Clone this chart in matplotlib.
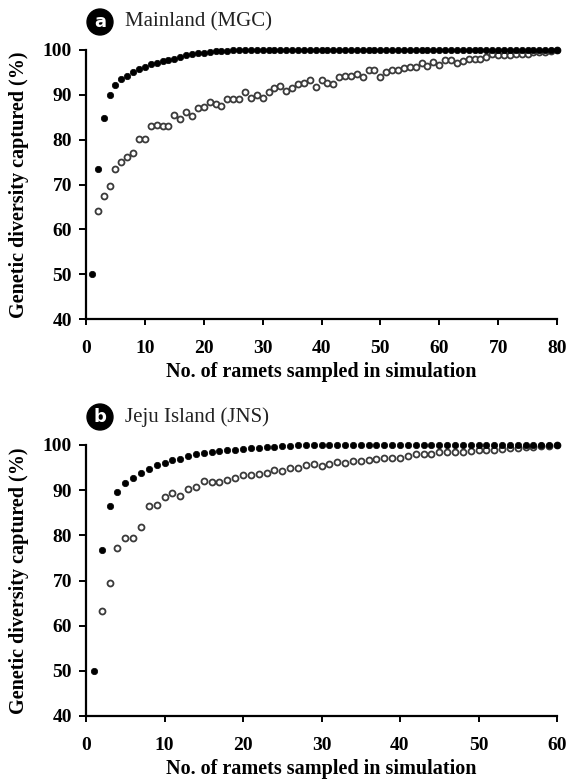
import numpy as np
import matplotlib.pyplot as plt

# Panel a - Mainland (MGC)
ramets_a = np.arange(1, 81)
all_a = [50.0, 73.4, 84.8, 90.0, 92.3, 93.5, 94.3, 95.1, 95.8, 96.3,
         96.8, 97.2, 97.5, 97.8, 98.1, 98.5, 98.8, 99.0, 99.25, 99.4,
         99.55, 99.7, 99.8, 99.85, 100, 100, 100, 100, 100, 100,
         100, 100, 100, 100, 100, 100, 100, 100, 100, 100,
         100, 100, 100, 100, 100, 100, 100, 100, 100, 100,
         100, 100, 100, 100, 100, 100, 100, 100, 100, 100,
         100, 100, 100, 100, 100, 100, 100, 100, 100, 100,
         100, 100, 100, 100, 100, 100, 100, 100, 100, 100]
ramets_a2 = np.arange(2, 81)
rare_a = [64.0, 67.4, 69.6, 73.4, 75.1, 76.2, 77.0, 80.1, 80.1,
          83.1, 83.3, 83.0, 83.0, 85.6, 84.7, 86.2, 85.3, 87.1, 87.2,
          88.5, 88.0, 87.4, 89.0, 89.0, 89.1, 90.6, 89.3, 90.0, 89.3,
          90.6, 91.6, 92.0, 90.8, 91.5, 92.5, 92.6, 93.3, 91.7, 93.3,
          92.7, 92.4, 94.0, 94.3, 94.3, 94.6, 94.0, 95.6, 95.6, 94.0,
          95.2, 95.6, 95.6, 96.0, 96.3, 96.1, 97.2, 96.5, 97.3, 96.6,
          97.7, 97.7, 97.0, 97.5, 98.1, 98.1, 98.1, 98.5, 99.0, 98.8,
          98.8, 98.8, 99.2, 99.2, 99.0, 99.5, 99.5, 99.6, 99.8, 99.9]

# Panel b - Jeju Island (JNS)
ramets_b = np.arange(1, 61)
all_b = [50.0, 76.8, 86.6, 89.6, 91.5, 92.7, 93.9, 94.7, 95.5, 96.1,
         96.6, 97.0, 97.5, 97.9, 98.2, 98.5, 98.7, 98.8, 99.0, 99.1,
         99.3, 99.4, 99.5, 99.6, 99.7, 99.8, 99.9, 99.9, 100, 100,
         100, 100, 100, 100, 100, 100, 100, 100, 100, 100,
         100, 100, 100, 100, 100, 100, 100, 100, 100, 100,
         100, 100, 100, 100, 100, 100, 100, 100, 100, 100]
ramets_b2 = np.arange(2, 61)
rare_b = [63.2, 69.4, 77.1, 79.5, 79.5, 81.9, 86.6, 86.8, 88.4,
          89.4, 88.7, 90.2, 90.6, 92.1, 91.7, 91.9, 92.2, 92.7, 93.3,
          93.3, 93.6, 93.9, 94.5, 94.2, 95.0, 94.8, 95.6, 95.8, 95.3,
          95.8, 96.3, 96.0, 96.5, 96.5, 96.7, 97.0, 97.2, 97.2, 97.2,
          97.6, 97.9, 97.9, 97.9, 98.4, 98.4, 98.4, 98.4, 98.7, 98.8,
          99.0, 99.0, 99.1, 99.3, 99.3, 99.5, 99.6, 99.7, 99.8, 99.9]

titles = ['Mainland (MGC)', 'Jeju Island (JNS)']
badges = ['a', 'b']
xmax = [80, 60]

plt.rcParams['font.family'] = 'Liberation Serif'

W, H = 568, 780
fig = plt.figure(figsize=(W / 100, H / 100), dpi=100)

# axes boxes in pixels: left, top (y=100), right, bottom (y=40)
boxes = [(86, 50, 557, 319), (86, 445, 557, 716)]
panels = [(ramets_a, all_a, ramets_a2, rare_a),
          (ramets_b, all_b, ramets_b2, rare_b)]

for i, (box, data) in enumerate(zip(boxes, panels)):
    l, t, r, b = box
    ax = fig.add_axes([l / W, 1 - b / H, (r - l) / W, (b - t) / H])
    x1, y1, x2, y2 = data
    ax.plot(x2, y2, 'o', ms=4.3, mfc='white', mec='#3a3a3a', mew=1.3,
            clip_on=False, zorder=3)
    ax.plot(x1, y1, 'o', ms=4.6, mfc='black', mec='black', mew=0.5,
            clip_on=False, zorder=4)
    ax.set_xlim(0, xmax[i])
    ax.set_ylim(40, 100)
    ax.set_xticks(np.arange(0, xmax[i] + 1, 10))
    ax.set_yticks(np.arange(40, 101, 10))
    for s in ['top', 'right']:
        ax.spines[s].set_visible(False)
    for s in ['left', 'bottom']:
        ax.spines[s].set_linewidth(1.6)
    ax.tick_params(axis='x', direction='out', length=4, width=1.4, pad=11,
                   labelsize=14)
    ax.tick_params(axis='y', direction='out', length=5, width=1.4, pad=5,
                   labelsize=14)
    for lab in ax.get_xticklabels() + ax.get_yticklabels():
        lab.set_fontweight('bold')
    ax.set_xlabel('No. of ramets sampled in simulation', fontsize=14.5,
                  fontweight='bold', va='center')
    ax.xaxis.set_label_coords(0.5, -53 / (b - t), transform=ax.transAxes)
    ax.set_ylabel('Genetic diversity captured (%)', fontsize=14.5,
                  fontweight='bold', va='center')
    ax.yaxis.set_label_coords(-(l - 19) / (r - l), 0.5, transform=ax.transAxes)

    # panel badge and title
    cy = t - 28
    fig.text(100 / W, 1 - cy / H, badges[i], color='white', fontsize=13,
             fontweight='bold', family='DejaVu Sans', ha='center', va='center',
             bbox=dict(boxstyle='circle,pad=0.22', fc='black', ec='black'))
    fig.text(125 / W, 1 - cy / H, titles[i], fontsize=15, ha='left',
             va='center', color='#222222')

fig.savefig('out.png', dpi=100)
